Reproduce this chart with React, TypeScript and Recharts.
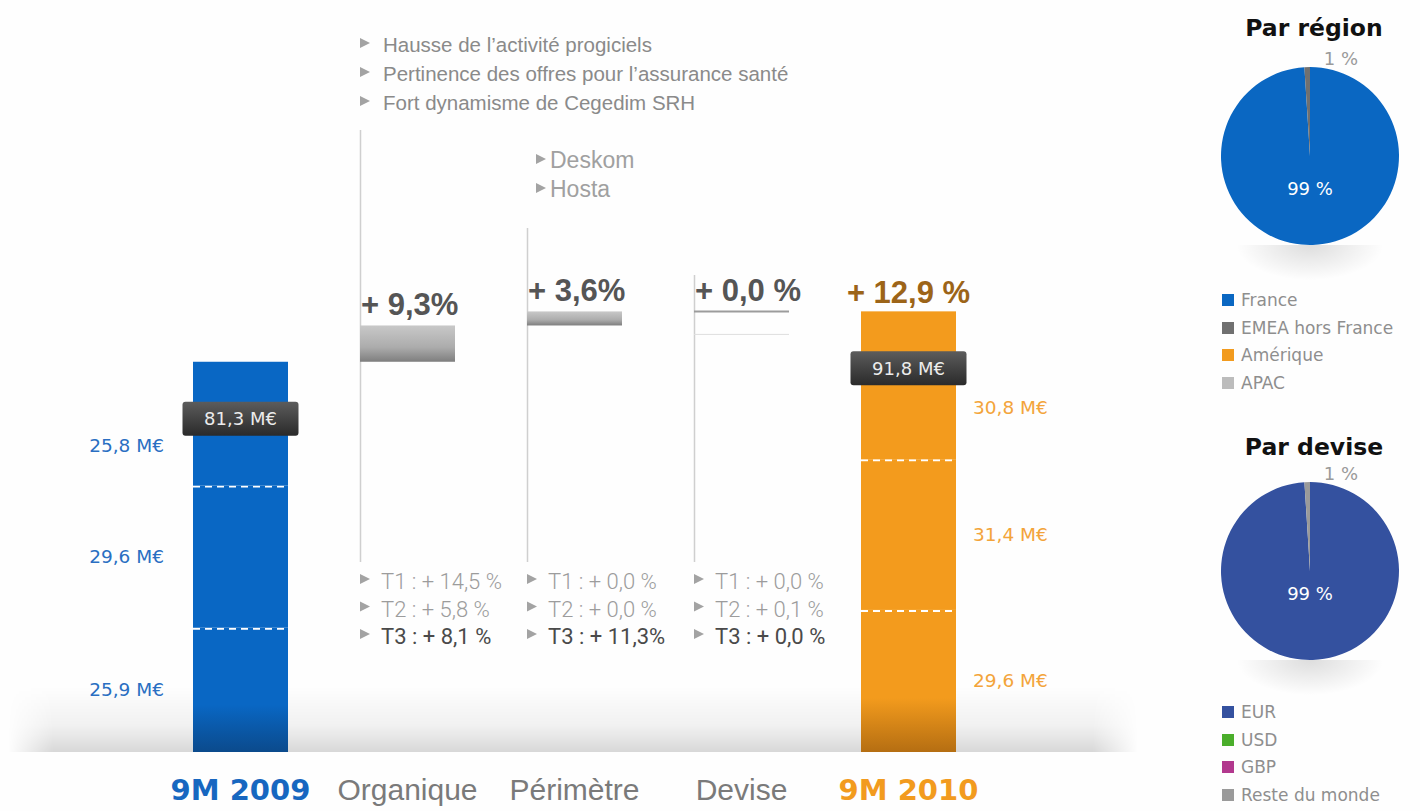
import React from 'react';
import { BarChart, Bar, XAxis, YAxis, LabelList, PieChart, Pie, Cell } from 'recharts';

const SANS = "'Liberation Sans', Arial, sans-serif";
const WIDE = "'DejaVu Sans', sans-serif";

// waterfall categories and quarterly revenue (M€) of the two totals
const categories = ['9M 2009', 'Organique', 'Périmètre', 'Devise', '9M 2010'];
const q1 = [25.9, 0, 0, 0, 29.6];
const q2 = [29.6, 0, 0, 0, 31.4];
const q3 = [25.8, 0, 0, 0, 30.8];

// growth contributions, in % of 9M 2009
const growthPct = [9.3, 3.6, 0.0];
const growthLabels = ['+ 9,3%', '+ 3,6%', '+ 0,0 %'];
const totalGrowthLabel = '+ 12,9 %';

const topNotes = [
  ['Hausse de l\u2019activité progiciels', 'Pertinence des offres pour l\u2019assurance santé', 'Fort dynamisme de Cegedim SRH'],
  ['Deskom', 'Hosta'],
  [],
];
const quarterNotes = [
  ['T1 : + 14,5 %', 'T2 : + 5,8 %', 'T3 : + 8,1 %'],
  ['T1 : + 0,0 %', 'T2 : + 0,0 %', 'T3 : + 11,3%'],
  ['T1 : + 0,0 %', 'T2 : + 0,1 %', 'T3 : + 0,0 %'],
];

const regionNames = ['France', 'EMEA hors France', 'Amérique', 'APAC'];
const regionValues = [99, 1, 0, 0];
const currencyNames = ['EUR', 'USD', 'GBP', 'Reste du monde'];
const currencyValues = [99, 0, 0, 1];

const BLUE = '#0967c4';
const ORANGE = '#f39b1d';
const tickColors = ['#1767c0', '#7a7a7a', '#7a7a7a', '#7a7a7a', '#f29b1e'];
const regionColors = ['#0a67c2', '#707070', '#f29b1e', '#bcbcbc'];
const currencyColors = ['#34519f', '#4aae2b', '#b2388e', '#9a9a9a'];

const fmt = (v: number) => v.toFixed(1).replace('.', ',');

const start = q1[0] + q2[0] + q3[0];
let running = start;
const rows = categories.map((name, i) => {
  if (i === 0 || i === categories.length - 1) {
    return { name, kind: 'total', q1: q1[i], q2: q2[i], q3: q3[i], base: 0, delta: 0, step: -1 };
  }
  const delta = (start * growthPct[i - 1]) / 100;
  const row = { name, kind: 'step', q1: 0, q2: 0, q3: 0, base: running, delta, step: i - 1 };
  running += delta;
  return row;
});

const LINE_TOPS = [130, 228, 275];
const LINE_BOTTOM = 562;

const box = (p: any) => p.viewBox ?? p;

const segShape = (key: string) => (p: any) => {
  const { x, y, width, height, payload } = p;
  if (!height || height <= 0) return null;
  const first = payload?.name === categories[0];
  const fill = key === 'q1' ? `url(#${first ? 'blueFoot' : 'orangeFoot'})` : first ? BLUE : ORANGE;
  return (
    <g>
      <rect x={x} y={y} width={width} height={height} fill={fill} />
      {key !== 'q3' && (
        <line x1={x} x2={x + width} y1={y + 1} y2={y + 1} stroke="#fff" strokeWidth={2} strokeDasharray="7 5" />
      )}
    </g>
  );
};

const stepShape = (p: any) => {
  const { x, y, width, height, payload } = p;
  if (!payload || payload.kind !== 'step') return null;
  const s = payload.step;
  return (
    <g>
      <line x1={x + 0.5} x2={x + 0.5} y1={LINE_TOPS[s]} y2={LINE_BOTTOM} stroke="#cfcfcf" strokeWidth={1.5} />
      {height > 0.5 ? (
        <rect x={x} y={y} width={width} height={height} fill="url(#stepGrey)" />
      ) : (
        <g>
          <line x1={x} x2={x + width} y1={y} y2={y} stroke="#9c9c9c" strokeWidth={2} />
          <line x1={x} x2={x + width} y1={y + 23} y2={y + 23} stroke="#dedede" strokeWidth={1} />
        </g>
      )}
    </g>
  );
};

const tri = (x: number, b: number, h = 10) => (
  <polygon points={`${x},${b - h - 2} ${x + h},${b - h / 2 - 2} ${x},${b - 2}`} fill="#a3a3a3" />
);

const segLabel = (dy: number) => (p: any) => {
  const vb = box(p);
  const row = rows[p.index];
  if (!row || row.kind !== 'total' || !vb.height) return null;
  const first = p.index === 0;
  return (
    <text
      x={first ? vb.x - 29 : vb.x + vb.width + 17}
      y={vb.y + vb.height / 2 + dy}
      textAnchor={first ? 'end' : 'start'}
      dominantBaseline="central"
      fontFamily={WIDE}
      fontSize={18.5}
      fill={first ? '#2a6fc2' : '#f3a43a'}
    >
      {fmt(p.value)} M€
    </text>
  );
};

const totalLabel = (p: any) => {
  const vb = box(p);
  const row = rows[p.index];
  if (!row || row.kind !== 'total') return null;
  const cx = vb.x + vb.width / 2;
  const total = row.q1 + row.q2 + row.q3;
  const last = p.index === rows.length - 1;
  return (
    <g>
      {last && (
        <text x={cx} y={vb.y - 8} textAnchor="middle" fontFamily={SANS} fontWeight={700} fontSize={31} fill="#9c6418">
          {totalGrowthLabel}
        </text>
      )}
      <rect x={cx - 58} y={vb.y + 40} width={116} height={34} rx={3} fill="url(#boxDark)" />
      <text x={cx} y={vb.y + 57} textAnchor="middle" dominantBaseline="central" fontFamily={WIDE} fontSize={18} fill="#ececec">
        {fmt(total)} M€
      </text>
    </g>
  );
};

const stepLabel = (p: any) => {
  const vb = box(p);
  const row = rows[p.index];
  if (!row || row.kind !== 'step') return null;
  const s = row.step;
  const x = vb.x;
  const notes = topNotes[s];
  const first = s === 0;
  const noteX = first ? x : x + 9;
  const noteY = first ? 52 : 168;
  return (
    <g>
      <text x={x + 1} y={vb.y - 10} fontFamily={SANS} fontWeight={700} fontSize={31} fill="#555">
        {growthLabels[s]}
      </text>
      {notes.map((n, k) => (
        <g key={k}>
          {tri(noteX, noteY + k * 29 - 2)}
          <text
            x={noteX + (first ? 23 : 14)}
            y={noteY + k * 29}
            fontFamily={SANS}
            fontSize={first ? 20.5 : 23}
            fill={first ? '#8a8a8a' : '#a0a0a0'}
          >
            {n}
          </text>
        </g>
      ))}
      {quarterNotes[s].map((n, k) => (
        <g key={'q' + k}>
          {tri(x, 589 + k * 27.5 - 3)}
          <text
            x={x + 21}
            y={589 + k * 27.5}
            fontFamily="Roboto, sans-serif"
            fontWeight={k === 2 ? 400 : 300}
            fontSize={22}
            fill={k === 2 ? '#4a4a4a' : '#9c9c9c'}
          >
            {n}
          </text>
        </g>
      ))}
    </g>
  );
};

const AxisTick = (p: any) => {
  const i = p.index;
  const total = i === 0 || i === categories.length - 1;
  return (
    <text
      x={p.x}
      y={p.y + 40}
      textAnchor="middle"
      fontFamily={total ? WIDE : SANS}
      fontWeight={total ? 700 : 400}
      fontSize={total ? 29 : 30}
      fill={tickColors[i]}
    >
      {p.payload.value}
    </text>
  );
};

function PiePanel({ title, names, values, colors, top, titleY, bigDy, legendY }: any) {
  const data = names.map((name: string, i: number) => ({ name, value: values[i] }));
  const pieLabel = (p: any) => {
    if (!p.value) return null;
    if (p.value >= 50) {
      return (
        <text x={p.cx} y={p.cy + bigDy} textAnchor="middle" dominantBaseline="central" fontFamily={WIDE} fontSize={18} fill="#fff">
          {p.value} %
        </text>
      );
    }
    return (
      <text x={p.cx + 31} y={p.cy - 98} textAnchor="middle" dominantBaseline="central" fontFamily={WIDE} fontSize={18} fill="#9a9a9a">
        {p.value} %
      </text>
    );
  };
  return (
    <div style={{ position: 'absolute', left: 1200, top, width: 220, height: 400 }}>
      <div
        style={{
          position: 'absolute',
          left: 0,
          width: 228,
          top: titleY - 15,
          textAlign: 'center',
          fontFamily: WIDE,
          fontWeight: 700,
          fontSize: 23.5,
          lineHeight: '30px',
          color: '#111',
        }}
      >
        {title}
      </div>
      <div
        style={{
          position: 'absolute',
          left: 18,
          top: 245,
          width: 184,
          height: 44,
          background: 'radial-gradient(ellipse 50% 100% at 50% 0%, rgba(0,0,0,0.13), rgba(0,0,0,0) 80%)',
        }}
      />
      <div style={{ position: 'absolute', left: 0, top: 0 }}>
        <PieChart width={220} height={270} margin={{ top: 0, right: 0, bottom: 0, left: 0 }}>
          <Pie
            data={data}
            dataKey="value"
            nameKey="name"
            cx={110}
            cy={156}
            outerRadius={89}
            startAngle={90}
            endAngle={-270}
            stroke="none"
            labelLine={false}
            label={pieLabel}
            isAnimationActive={false}
          >
            {data.map((d: any, i: number) => (
              <Cell key={d.name} fill={colors[i]} />
            ))}
          </Pie>
        </PieChart>
      </div>
      {names.map((n: string, i: number) => (
        <div
          key={n}
          style={{
            position: 'absolute',
            left: 22,
            top: legendY + i * 27.6 - 11,
            height: 22,
            display: 'flex',
            alignItems: 'center',
            whiteSpace: 'nowrap',
            fontFamily: WIDE,
            fontSize: 17,
            color: '#8e8e8e',
          }}
        >
          <span style={{ display: 'inline-block', width: 12, height: 12, background: colors[i], marginRight: 7 }} />
          {n}
        </div>
      ))}
    </div>
  );
}

export default function App() {
  return (
    <div style={{ position: 'absolute', left: 0, top: 0, width: 1420, height: 811, overflow: 'hidden', background: '#fefefe' }}>
      <div
        style={{
          position: 'absolute',
          left: 8,
          top: 686,
          width: 1130,
          height: 66,
          background: 'linear-gradient(to bottom, rgba(0,0,0,0), rgba(0,0,0,0.05) 60%, rgba(0,0,0,0.15))',
          WebkitMaskImage: 'linear-gradient(to right, transparent, black 4%, black 96%, transparent)',
          maskImage: 'linear-gradient(to right, transparent, black 4%, black 96%, transparent)',
        }}
      />
      <div style={{ position: 'absolute', left: 0, top: 0 }}>
        <BarChart width={1150} height={811} data={rows} margin={{ top: 32, right: 158, bottom: 0, left: 157 }}>
          <defs>
            <linearGradient id="blueFoot" x1="0" y1="0" x2="0" y2="1">
              <stop offset="0" stopColor={BLUE} />
              <stop offset="0.62" stopColor={BLUE} />
              <stop offset="1" stopColor="#0b4a8c" />
            </linearGradient>
            <linearGradient id="orangeFoot" x1="0" y1="0" x2="0" y2="1">
              <stop offset="0" stopColor={ORANGE} />
              <stop offset="0.62" stopColor={ORANGE} />
              <stop offset="1" stopColor="#b56e12" />
            </linearGradient>
            <linearGradient id="stepGrey" x1="0" y1="0" x2="0" y2="1">
              <stop offset="0" stopColor="#c8c8c8" />
              <stop offset="0.6" stopColor="#acacac" />
              <stop offset="1" stopColor="#7e7e7e" />
            </linearGradient>
            <linearGradient id="boxDark" x1="0" y1="0" x2="0" y2="1">
              <stop offset="0" stopColor="#5c5c5c" />
              <stop offset="1" stopColor="#2a2a2a" />
            </linearGradient>
          </defs>
          <XAxis dataKey="name" axisLine={false} tickLine={false} interval={0} height={59} tick={AxisTick} />
          <YAxis hide domain={[0, 150]} />
          <Bar dataKey="q1" stackId="w" barSize={95} shape={segShape('q1')} isAnimationActive={false}>
            <LabelList dataKey="q1" content={segLabel(0)} />
          </Bar>
          <Bar dataKey="q2" stackId="w" barSize={95} shape={segShape('q2')} isAnimationActive={false}>
            <LabelList dataKey="q2" content={segLabel(0)} />
          </Bar>
          <Bar dataKey="q3" stackId="w" barSize={95} shape={segShape('q3')} isAnimationActive={false}>
            <LabelList dataKey="q3" content={segLabel(22)} />
            <LabelList dataKey="q3" content={totalLabel} />
          </Bar>
          <Bar dataKey="base" stackId="w" barSize={95} fill="transparent" isAnimationActive={false} />
          <Bar dataKey="delta" stackId="w" barSize={95} shape={stepShape} isAnimationActive={false}>
            <LabelList dataKey="delta" content={stepLabel} />
          </Bar>
        </BarChart>
      </div>
      <PiePanel
        title="Par région"
        names={regionNames}
        values={regionValues}
        colors={regionColors}
        top={0}
        titleY={28}
        bigDy={32}
        legendY={300}
      />
      <PiePanel
        title="Par devise"
        names={currencyNames}
        values={currencyValues}
        colors={currencyColors}
        top={415}
        titleY={32}
        bigDy={22}
        legendY={297}
      />
    </div>
  );
}
